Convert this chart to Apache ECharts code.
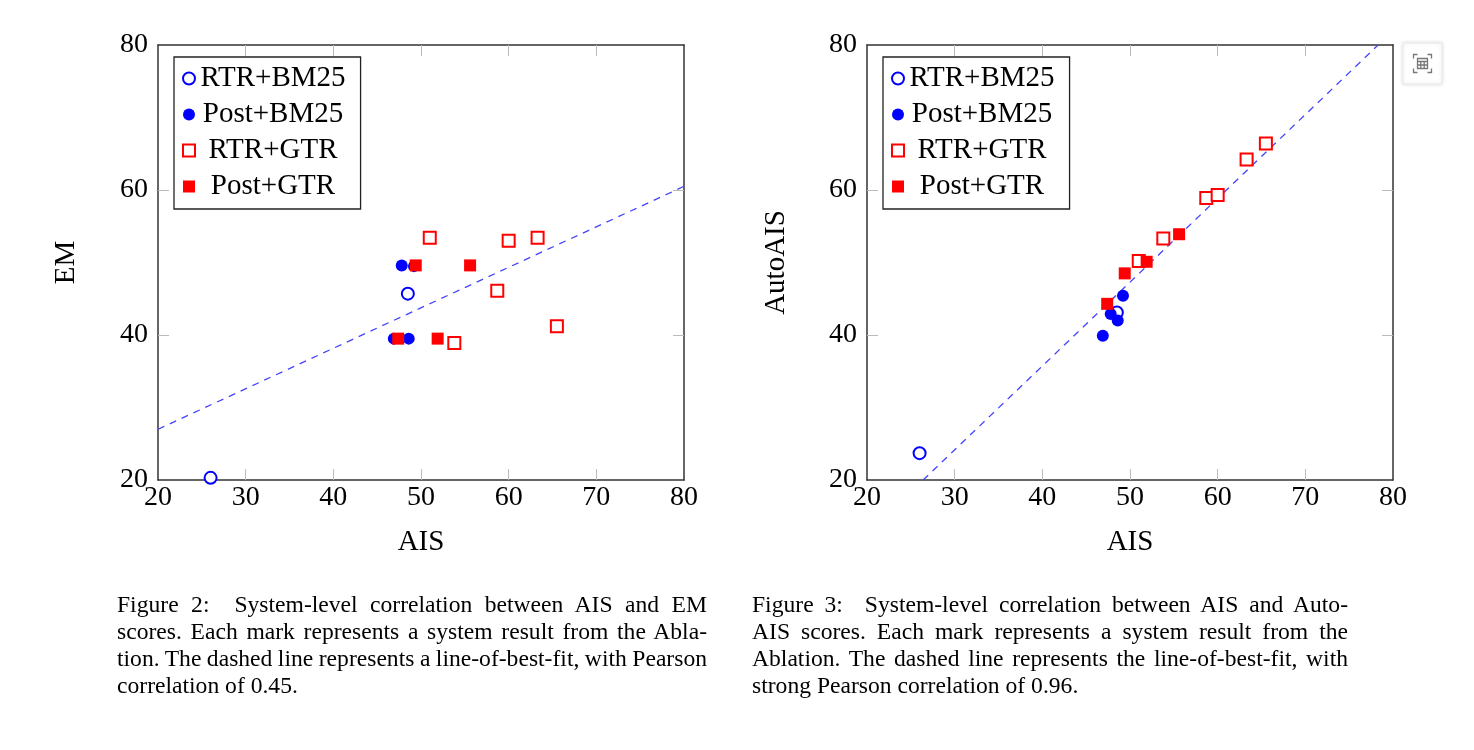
<!DOCTYPE html>
<html>
<head>
<meta charset="utf-8">
<title>AIS correlation</title>
<script src="https://cdn.jsdelivr.net/npm/echarts@6/dist/echarts.min.js"></script>
<style>
  html, body { margin: 0; padding: 0; background: #fff; }
  #chart { position: absolute; left: 0; top: 0; width: 1474px; height: 750px; }
  .caption {
    position: absolute; top: 591px;
    font-family: 'Liberation Serif', 'Times New Roman', serif;
    font-size: 23.6px; line-height: 27px; color: #000;
    word-spacing: -2px;
  }
  .caption div { text-align: justify; text-align-last: justify; }
  .caption div.last { text-align: left; text-align-last: left; word-spacing: 0; }
</style>
</head>
<body>
<div id="chart"></div>

<div class="caption" style="left:117px; width:590px;">
  <div>Figure 2:&nbsp; System-level correlation between AIS and EM</div>
  <div>scores. Each mark represents a system result from the Abla-</div>
  <div>tion. The dashed line represents a line-of-best-fit, with Pearson</div>
  <div class="last">correlation of 0.45.</div>
</div>
<div class="caption" style="left:752px; width:596px;">
  <div>Figure 3:&nbsp; System-level correlation between AIS and Auto-</div>
  <div>AIS scores. Each mark represents a system result from the</div>
  <div>Ablation. The dashed line represents the line-of-best-fit, with</div>
  <div class="last">strong Pearson correlation of 0.96.</div>
</div>

<script>
// systems (legend order)
const systems = ['RTR+BM25', 'Post+BM25', 'RTR+GTR', 'Post+GTR'];

// AIS score of each system result
const aisRtrBm25 = [26.0, 48.5];
const aisPostBm25 = [46.9, 47.8, 48.6, 49.2];
const aisRtrGtr = [51.0, 53.8, 58.7, 60.0, 63.3, 65.5];
const aisPostGtr = [47.4, 49.4, 51.9, 55.6];

// EM score (figure 2)
const emRtrBm25 = [20.3, 45.7];
const emPostBm25 = [39.5, 49.6, 39.5, 49.5];
const emRtrGtr = [53.4, 38.9, 46.1, 53.0, 53.4, 41.2];
const emPostGtr = [39.5, 49.6, 39.5, 49.6];

// AutoAIS score (figure 3)
const autoRtrBm25 = [23.7, 43.1];
const autoPostBm25 = [39.9, 42.9, 42.0, 45.4];
const autoRtrGtr = [50.2, 53.3, 58.9, 59.3, 64.2, 66.4];
const autoPostGtr = [44.3, 48.5, 50.1, 53.9];

// line-of-best-fit end points
const fitEm = [[20, 27.0], [80, 60.5]];
const fitAuto = [[26.4, 20], [78.3, 80]];

// ticks
const xTicks = [30, 40, 50, 60, 70];
const yTicks = [40, 60];

const FONT = 'Liberation Serif';
const BLUE = '#0000ff';
const RED = '#ff0000';

// table icon for the data view button
const TABLE_ICON = 'path://M1,5V1H5M15,1H19V5M19,15V19H15M5,19H1V15M5,5H15V15H5ZM5,8H15M5,11.5H15M8.3,8V15M11.7,8V15';

function zip(xs, ys) {
  return xs.map((x, i) => [x, ys[i]]);
}

function xAxes(grid) {
  const base = {
    gridIndex: grid, type: 'value', min: 20, max: 80, interval: 10,
    axisLine: { onZero: false, lineStyle: { color: '#333', width: 1.5 } },
    axisTick: { inside: true, length: 11, customValues: xTicks, lineStyle: { color: '#bbb', width: 1 } },
    splitLine: { show: false }
  };
  return [
    Object.assign({}, base, {
      position: 'bottom',
      name: 'AIS', nameLocation: 'middle', nameGap: 48,
      nameTextStyle: { fontFamily: FONT, fontSize: 29, color: '#000' },
      axisLabel: { fontFamily: FONT, fontSize: 28, color: '#000', margin: 4 }
    }),
    Object.assign({}, base, { position: 'top', axisLabel: { show: false } })
  ];
}

function yAxes(grid, name, gap) {
  const base = {
    gridIndex: grid, type: 'value', min: 20, max: 80, interval: 20,
    axisLine: { onZero: false, lineStyle: { color: '#333', width: 1.5 } },
    axisTick: { inside: true, length: 11, customValues: yTicks, lineStyle: { color: '#bbb', width: 1 } },
    splitLine: { show: false }
  };
  return [
    Object.assign({}, base, {
      position: 'left',
      name: name, nameLocation: 'middle', nameGap: gap,
      nameTextStyle: { fontFamily: FONT, fontSize: 29, color: '#000' },
      axisLabel: { fontFamily: FONT, fontSize: 28, color: '#000', margin: 10 }
    }),
    Object.assign({}, base, { position: 'right', axisLabel: { show: false } })
  ];
}

function legend(left) {
  return {
    left: left, top: 57, orient: 'vertical',
    data: systems,
    itemWidth: 12, itemHeight: 12, itemGap: 7,
    padding: [7, 15, 8, 8],
    borderColor: '#222', borderWidth: 1.3,
    backgroundColor: '#fff',
    formatter: name => '{t|' + name + '}',
    textStyle: {
      fontFamily: FONT, fontSize: 29, color: '#000',
      rich: { t: { width: 146, align: 'center', fontFamily: FONT, fontSize: 29, color: '#000' } }
    }
  };
}

function seriesFor(axis, rtrBm25, postBm25, rtrGtr, postGtr, fit) {
  const common = { type: 'scatter', xAxisIndex: axis, yAxisIndex: axis, symbolSize: 12, z: 3 };
  return [
    { name: 'fit', type: 'line', xAxisIndex: axis, yAxisIndex: axis, data: fit,
      symbol: 'none', silent: true, z: 2,
      lineStyle: { color: '#4444ff', width: 1.3, type: [7, 6] } },
    Object.assign({}, common, { name: systems[0], symbol: 'emptyCircle',
      itemStyle: { color: BLUE, borderColor: BLUE, borderWidth: 1.4, opacity: 1 },
      data: zip(aisRtrBm25, rtrBm25) }),
    Object.assign({}, common, { name: systems[1], symbol: 'circle',
      itemStyle: { color: BLUE, opacity: 1 },
      data: zip(aisPostBm25, postBm25) }),
    Object.assign({}, common, { name: systems[2], symbol: 'emptyRect',
      itemStyle: { color: RED, borderColor: RED, borderWidth: 1.4, opacity: 1 },
      data: zip(aisRtrGtr, rtrGtr) }),
    Object.assign({}, common, { name: systems[3], symbol: 'rect',
      itemStyle: { color: RED, opacity: 1 },
      data: zip(aisPostGtr, postGtr) })
  ];
}

const chart = echarts.init(document.getElementById('chart'));

chart.setOption({
  animation: false,
  backgroundColor: '#fff',
  toolbox: {
    right: 32, top: 43, itemSize: 18, padding: [9, 8],
    backgroundColor: '#fff', borderColor: '#e8e8e8', borderWidth: 1,
    shadowBlur: 4, shadowColor: 'rgba(0,0,0,0.12)',
    iconStyle: { borderColor: '#777', borderWidth: 1.3 },
    feature: { dataView: { readOnly: true, icon: TABLE_ICON } }
  },
  legend: [legend(174), legend(883)],
  grid: [
    { left: 158, top: 45, width: 526, height: 435 },
    { left: 867, top: 45, width: 526, height: 435 }
  ],
  xAxis: xAxes(0).concat(xAxes(1)),
  yAxis: yAxes(0, 'EM', 77).concat(yAxes(1, 'AutoAIS', 76)),
  series: seriesFor(0, emRtrBm25, emPostBm25, emRtrGtr, emPostGtr, fitEm)
    .concat(seriesFor(2, autoRtrBm25, autoPostBm25, autoRtrGtr, autoPostGtr, fitAuto))
});
</script>
</body>
</html>
